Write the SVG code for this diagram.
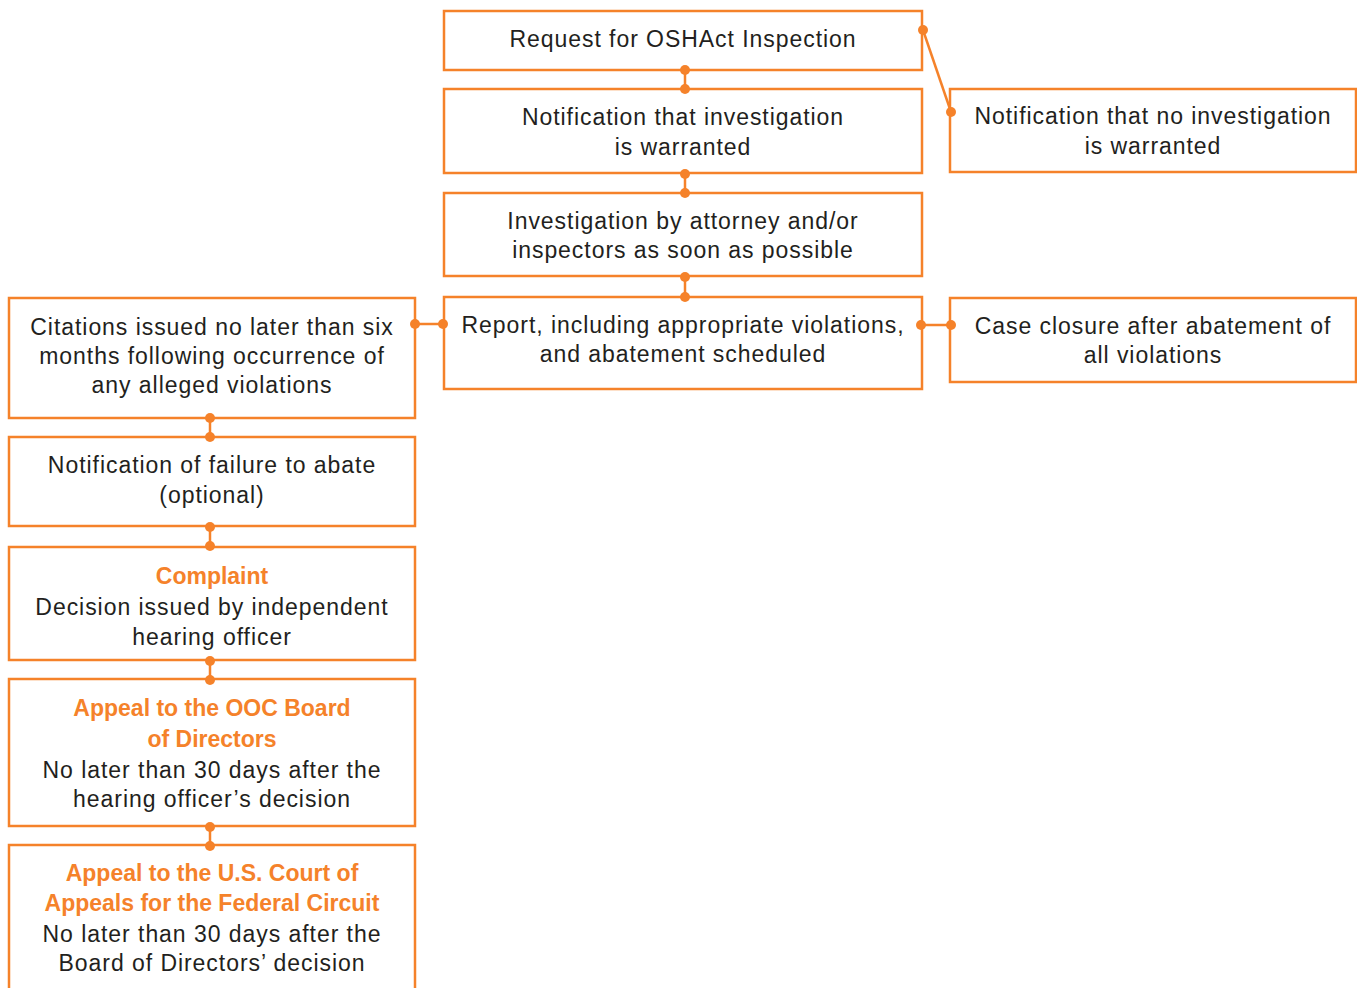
<svg xmlns="http://www.w3.org/2000/svg" width="1357" height="988" viewBox="0 0 1357 988">
<style>
.box{fill:#fff;stroke:#F5822A;stroke-width:2.5}
.t{font-family:"Liberation Sans",Arial,sans-serif;font-size:23px;letter-spacing:0.95px;fill:#231F20;text-anchor:middle}
.h{font-family:"Liberation Sans",Arial,sans-serif;font-size:23px;font-weight:bold;fill:#F5822A;text-anchor:middle}
.c{stroke:#F5822A;stroke-width:2.5;fill:none}
.d{fill:#F5822A}
</style>
<rect width="1357" height="988" fill="#fff"/>
<g id="n1"><rect class="box" x="444" y="11" width="478" height="59"/><text class="t" x="683" y="47">Request for OSHAct Inspection</text></g>
<g id="n2"><rect class="box" x="444" y="89" width="478" height="84"/><text class="t" x="683" y="125">Notification that investigation</text><text class="t" x="683" y="155">is warranted</text></g>
<g id="n3"><rect class="box" x="444" y="193" width="478" height="83"/><text class="t" x="683" y="229">Investigation by attorney and/or</text><text class="t" x="683" y="258">inspectors as soon as possible</text></g>
<g id="n4"><rect class="box" x="444" y="297" width="478" height="92"/><text class="t" x="683" y="333">Report, including appropriate violations,</text><text class="t" x="683" y="362">and abatement scheduled</text></g>
<g id="n5"><rect class="box" x="950" y="89" width="406" height="83"/><text class="t" x="1153" y="124">Notification that no investigation</text><text class="t" x="1153" y="154">is warranted</text></g>
<g id="n6"><rect class="box" x="950" y="298" width="406" height="84"/><text class="t" x="1153" y="334">Case closure after abatement of</text><text class="t" x="1153" y="363">all violations</text></g>
<g id="n7"><rect class="box" x="9" y="298" width="406" height="120"/><text class="t" x="212" y="335">Citations issued no later than six</text><text class="t" x="212" y="364">months following occurrence of</text><text class="t" x="212" y="393">any alleged violations</text></g>
<g id="n8"><rect class="box" x="9" y="437" width="406" height="89"/><text class="t" x="212" y="473">Notification of failure to abate</text><text class="t" x="212" y="503">(optional)</text></g>
<g id="n9"><rect class="box" x="9" y="547" width="406" height="113"/><text class="h" x="212" y="584">Complaint</text><text class="t" x="212" y="615">Decision issued by independent</text><text class="t" x="212" y="645">hearing officer</text></g>
<g id="n10"><rect class="box" x="9" y="679" width="406" height="147"/><text class="h" x="212" y="716">Appeal to the OOC Board</text><text class="h" x="212" y="747">of Directors</text><text class="t" x="212" y="778">No later than 30 days after the</text><text class="t" x="212" y="807">hearing officer’s decision</text></g>
<g id="n11"><rect class="box" x="9" y="845" width="406" height="160"/><text class="h" x="212" y="881">Appeal to the U.S. Court of</text><text class="h" x="212" y="911">Appeals for the Federal Circuit</text><text class="t" x="212" y="942">No later than 30 days after the</text><text class="t" x="212" y="971">Board of Directors’ decision</text></g>
<g id="connectors">
<line class="c" x1="685" y1="70" x2="685" y2="89"/><circle class="d" cx="685" cy="70" r="5"/><circle class="d" cx="685" cy="89" r="5"/>
<line class="c" x1="685" y1="174" x2="685" y2="193"/><circle class="d" cx="685" cy="174" r="5"/><circle class="d" cx="685" cy="193" r="5"/>
<line class="c" x1="685" y1="277" x2="685" y2="297"/><circle class="d" cx="685" cy="277" r="5"/><circle class="d" cx="685" cy="297" r="5"/>
<line class="c" x1="923" y1="30" x2="951" y2="112"/><circle class="d" cx="923" cy="30" r="5"/><circle class="d" cx="951" cy="112" r="5"/>
<line class="c" x1="921" y1="325" x2="951" y2="325"/><circle class="d" cx="921" cy="325" r="5"/><circle class="d" cx="951" cy="325" r="5"/>
<line class="c" x1="415" y1="324" x2="443" y2="324"/><circle class="d" cx="415" cy="324" r="5"/><circle class="d" cx="443" cy="324" r="5"/>
<line class="c" x1="210" y1="418" x2="210" y2="437"/><circle class="d" cx="210" cy="418" r="5"/><circle class="d" cx="210" cy="437" r="5"/>
<line class="c" x1="210" y1="527" x2="210" y2="546"/><circle class="d" cx="210" cy="527" r="5"/><circle class="d" cx="210" cy="546" r="5"/>
<line class="c" x1="210" y1="661" x2="210" y2="680"/><circle class="d" cx="210" cy="661" r="5"/><circle class="d" cx="210" cy="680" r="5"/>
<line class="c" x1="210" y1="827" x2="210" y2="846"/><circle class="d" cx="210" cy="827" r="5"/><circle class="d" cx="210" cy="846" r="5"/>
</g>
</svg>
